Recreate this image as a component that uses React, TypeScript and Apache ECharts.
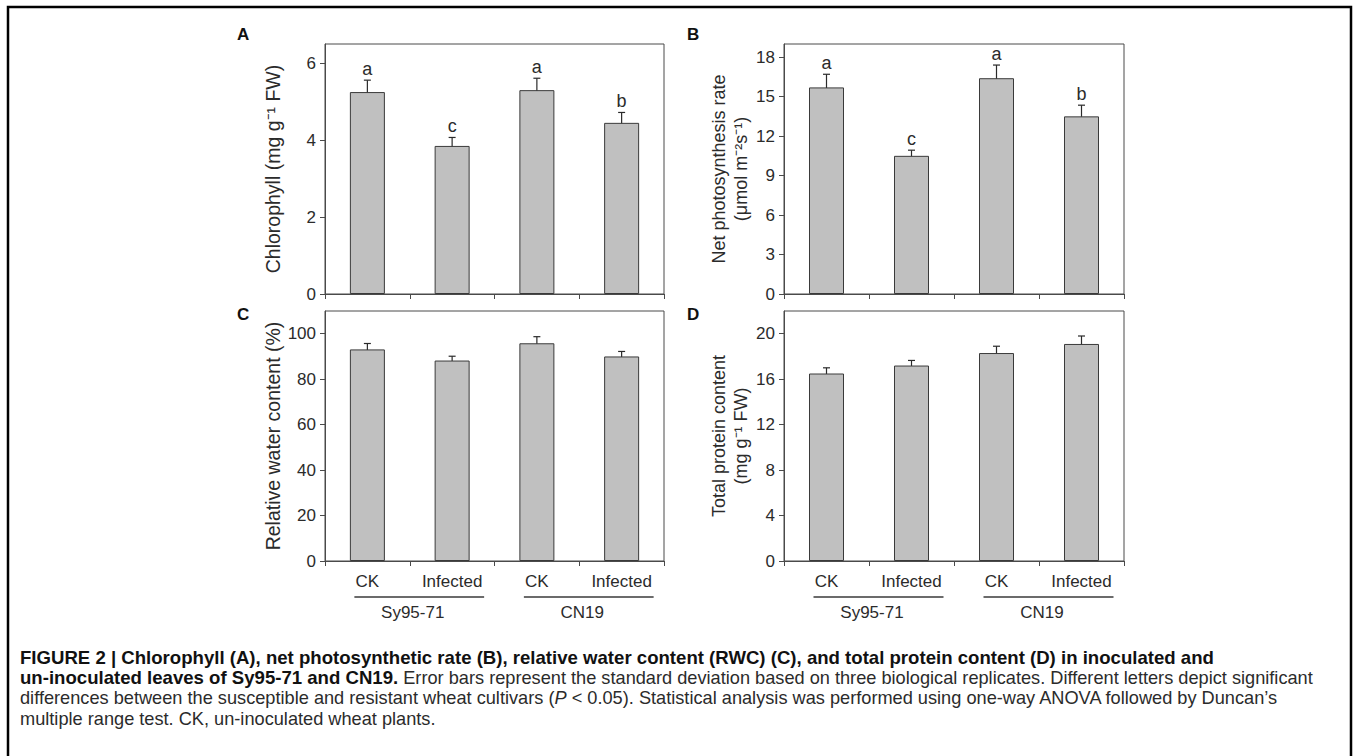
import React, { useEffect, useRef } from "react";
import * as echarts from "echarts";

// ---------- data ----------
const categories = ["Sy95-71 CK", "Sy95-71 Infected", "CN19 CK", "CN19 Infected"];
const treatmentLabels = ["CK", "Infected", "CK", "Infected"];
const cultivars = ["Sy95-71", "CN19"];
const cultivarSpans = [
  [0, 1],
  [2, 3],
];

const chlorophyll = [5.25, 3.85, 5.3, 4.45];
const chlorophyllSd = [0.31, 0.22, 0.31, 0.27];
const chlorophyllLetters = ["a", "c", "a", "b"];

const photosynthesis = [15.7, 10.5, 16.4, 13.5];
const photosynthesisSd = [1.0, 0.43, 1.0, 0.85];
const photosynthesisLetters = ["a", "c", "a", "b"];

const waterContent = [93.1, 88.2, 95.8, 90.0];
const waterContentSd = [2.6, 1.9, 2.9, 2.2];

const protein = [16.5, 17.2, 18.3, 19.1];
const proteinSd = [0.5, 0.45, 0.6, 0.7];

const ticksA = [0, 2, 4, 6];
const ticksB = [0, 3, 6, 9, 12, 15, 18];
const ticksC = [0, 20, 40, 60, 80, 100];
const ticksD = [0, 4, 8, 12, 16, 20];

const captionLines = [
  [["b", "FIGURE 2 | Chlorophyll (A), net photosynthetic rate (B), relative water content (RWC) (C), and total protein content (D) in inoculated and"]],
  [
    ["b", "un-inoculated leaves of Sy95-71 and CN19."],
    ["r", " Error bars represent the standard deviation based on three biological replicates. Different letters depict significant"],
  ],
  [
    ["r", "differences between the susceptible and resistant wheat cultivars ("],
    ["i", "P"],
    ["r", " < 0.05). Statistical analysis was performed using one-way ANOVA followed by Duncan\u2019s"],
  ],
  [["r", "multiple range test. CK, un-inoculated wheat plants."]],
];

// ---------- style ----------
const FONT = "'Liberation Sans', Arial, Helvetica, sans-serif";
const TXT = "#2b2b2b";
const AX = "#4a4a4a";
const BAR = "#c0c0c0";

const panels = [
  { letter: "A", letterPos: [237, 34], values: chlorophyll, sd: chlorophyllSd, letters: chlorophyllLetters, ticks: ticksA, max: 6.5, interval: 2, name: "Chlorophyll (mg g\u207B\u00B9 FW)", nameSize: 19.5, nameGap: 41, grid: { left: 325, top: 44, width: 339, height: 250 }, showX: false },
  { letter: "B", letterPos: [687, 34], values: photosynthesis, sd: photosynthesisSd, letters: photosynthesisLetters, ticks: ticksB, max: 19, interval: 3, name: "Net photosynthesis rate\n(\u03BCmol m\u207B\u00B2s\u207B\u00B9)", nameSize: 18, nameGap: 32, grid: { left: 784, top: 44, width: 340, height: 250 }, showX: false },
  { letter: "C", letterPos: [237, 314], values: waterContent, sd: waterContentSd, letters: null, ticks: ticksC, max: 110, interval: 20, name: "Relative water content (%)", nameSize: 19.5, nameGap: 41, grid: { left: 325, top: 311, width: 339, height: 250 }, showX: true },
  { letter: "D", letterPos: [687, 314], values: protein, sd: proteinSd, letters: null, ticks: ticksD, max: 22, interval: 4, name: "Total protein content\n(mg g\u207B\u00B9 FW)", nameSize: 18, nameGap: 32, grid: { left: 784, top: 311, width: 340, height: 250 }, showX: true },
];

function buildOption() {
  const grid: any[] = [];
  const xAxis: any[] = [];
  const yAxis: any[] = [];
  const series: any[] = [];
  const graphic: any[] = [];

  panels.forEach((p, i) => {
    grid.push({ ...p.grid, show: true, borderColor: AX, borderWidth: 1, backgroundColor: "transparent", containLabel: false });
    xAxis.push({
      type: "category",
      gridIndex: i,
      data: categories,
      boundaryGap: true,
      axisLine: { show: true, lineStyle: { color: AX, width: 1 } },
      axisTick: { show: true, length: 5, inside: false, lineStyle: { color: AX, width: 1 } },
      axisLabel: {
        show: p.showX,
        interval: 0,
        margin: 12,
        fontSize: 17,
        color: TXT,
        fontFamily: FONT,
        formatter: (_v: string, idx: number) => treatmentLabels[idx],
      },
      splitLine: { show: false },
    });
    yAxis.push({
      type: "value",
      gridIndex: i,
      min: 0,
      max: p.max,
      interval: p.interval,
      axisLine: { show: true, lineStyle: { color: AX, width: 1 } },
      axisTick: { show: true, length: 5, lineStyle: { color: AX, width: 1 }, customValues: p.ticks },
      axisLabel: {
        fontSize: 17,
        color: TXT,
        fontFamily: FONT,
        margin: 9,
        customValues: p.ticks,
        formatter: (v: number) => (p.ticks.indexOf(v) >= 0 ? String(v) : ""),
      },
      splitLine: { show: false },
      name: p.name,
      nameLocation: "middle",
      nameGap: p.nameGap,
      nameRotate: 90,
      nameTextStyle: { fontSize: p.nameSize, color: TXT, fontFamily: FONT, lineHeight: 22 },
    });
    series.push({
      type: "bar",
      xAxisIndex: i,
      yAxisIndex: i,
      data: p.values,
      barWidth: 35,
      itemStyle: { color: BAR, borderColor: "#3a3a3a", borderWidth: 1 },
      silent: true,
    });
    const letters = p.letters;
    series.push({
      type: "custom",
      xAxisIndex: i,
      yAxisIndex: i,
      silent: true,
      data: p.values.map((v, k) => [k, v, p.sd[k]]),
      renderItem: (params: any, api: any) => {
        const x = api.value(0);
        const v = api.value(1);
        const s = api.value(2);
        const top = api.coord([x, v + s]);
        const bot = api.coord([x, v - s]);
        const cap = 3.5;
        const st = { stroke: "#2a2a2a", lineWidth: 1.2 };
        const children: any[] = [
          { type: "line", shape: { x1: top[0], y1: top[1], x2: bot[0], y2: bot[1] }, style: st },
          { type: "line", shape: { x1: top[0] - cap, y1: top[1], x2: top[0] + cap, y2: top[1] }, style: st },
          { type: "line", shape: { x1: bot[0] - cap, y1: bot[1], x2: bot[0] + cap, y2: bot[1] }, style: st },
        ];
        if (letters) {
          children.push({
            type: "text",
            style: { text: letters[params.dataIndex], x: top[0], y: top[1] - 2, align: "center", verticalAlign: "bottom", fontSize: 18, fill: TXT, fontFamily: FONT },
          });
        }
        return { type: "group", children };
      },
    });
    if (p.showX) {
      series.push({
        type: "custom",
        xAxisIndex: i,
        yAxisIndex: i,
        silent: true,
        clip: false,
        data: cultivarSpans.map((s, k) => [s[0], s[1], k]),
        renderItem: (params: any, api: any) => {
          const a = api.coord([api.value(0), 0]);
          const b = api.coord([api.value(1), 0]);
          const y0 = a[1];
          return {
            type: "group",
            children: [
              { type: "line", shape: { x1: a[0] - 13, y1: y0 + 36, x2: b[0] + 32, y2: y0 + 36 }, style: { stroke: "#3a3a3a", lineWidth: 1.3 } },
              {
                type: "text",
                style: { text: cultivars[api.value(2)], x: (a[0] + b[0]) / 2 + 3, y: y0 + 51, align: "center", verticalAlign: "middle", fontSize: 17, fill: TXT, fontFamily: FONT },
              },
            ],
          };
        },
      });
    }
    graphic.push({
      type: "text",
      x: p.letterPos[0],
      y: p.letterPos[1],
      style: { text: p.letter, fontSize: 17, fontWeight: "bold", fill: "#111", fontFamily: FONT, align: "left", verticalAlign: "middle" },
    });
  });

  // outer frame
  graphic.push({
    type: "rect",
    shape: { x: 8, y: 7, width: 1343, height: 800 },
    style: { fill: "none", stroke: "#000", lineWidth: 2.5 },
  });

  // caption
  const rich = {
    b: { fontSize: 18.6, fontWeight: "bold", fill: "#111", fontFamily: FONT },
    r: { fontSize: 18.2, fill: "#2b2b2b", fontFamily: FONT },
    i: { fontSize: 18.2, fontStyle: "italic", fill: "#2b2b2b", fontFamily: FONT },
  };
  captionLines.forEach((line, k) => {
    const text = line.map(([s, t]) => `{${s}|${t}}`).join("");
    graphic.push({
      type: "text",
      x: 20,
      y: 657 + k * 20.5,
      style: { text, rich, verticalAlign: "middle", align: "left", font: `18px ${FONT}` },
    });
  });

  return {
    animation: false,
    backgroundColor: "#ffffff",
    textStyle: { fontFamily: FONT },
    grid,
    xAxis,
    yAxis,
    series,
    graphic,
  };
}

export default function App() {
  const ref = useRef<HTMLDivElement>(null);
  useEffect(() => {
    if (!ref.current) return;
    const chart = echarts.init(ref.current, undefined, { renderer: "svg" });
    chart.setOption(buildOption() as any);
    return () => chart.dispose();
  }, []);
  return <div ref={ref} style={{ position: "absolute", left: 0, top: 0, width: 1357, height: 756 }} />;
}
